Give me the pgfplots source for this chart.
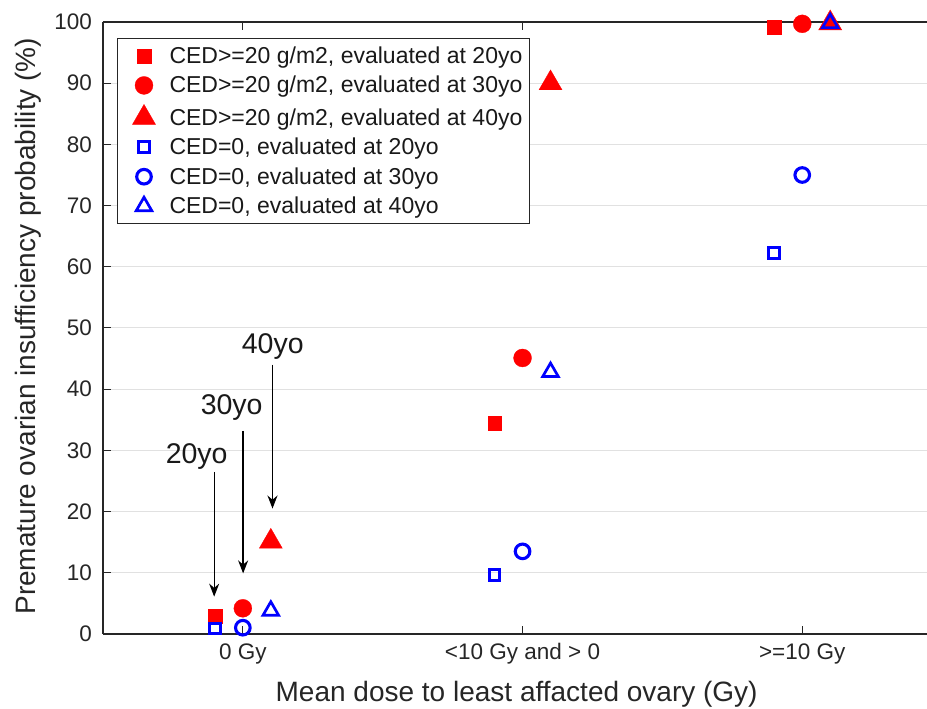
\documentclass[border=0pt]{standalone}
\usepackage{fontspec}
\setmainfont{Liberation Sans}
\usepackage{pgfplots}
\pgfplotsset{compat=1.18}
\usetikzlibrary{arrows.meta}
\definecolor{axgray}{RGB}{38,38,38}
\definecolor{gridgray}{RGB}{225,225,225}
\begin{document}
\begin{tikzpicture}
\begin{axis}[
  name=ax,
  scale only axis, width=824pt, height=612pt,
  xmin=0.5, xmax=3.446, ymin=0, ymax=100,
  axis x line=box, axis y line=left,
  axis line style={-, draw=axgray, line width=1.1pt},
  xtick={1,2,3}, xticklabels={0 Gy, {<10 Gy and > 0}, {>=10 Gy}},
  ytick={0,10,...,100},
  tick align=inside, major tick length=8pt,
  tick style={draw=axgray, line width=1pt},
  ymajorgrids, major grid style={draw=gridgray, line width=1pt},
  /pgf/number format/assume math mode=true,
  ticklabel style={font=\fontsize{22.5}{26}\selectfont, text=axgray},
  yticklabel style={anchor=east, inner sep=0pt, xshift=-11pt},
  xticklabel style={anchor=base, inner sep=0pt, yshift=-26pt},
  xlabel={Mean dose to least affacted ovary (Gy)},
  ylabel={Premature ovarian insufficiency probability (\%)},
  label style={font=\fontsize{28}{32}\selectfont, text=axgray, inner sep=0pt},
  xlabel style={at={(axis description cs:0.502,-0.1095)}, anchor=base},
  ylabel style={at={(axis description cs:-0.0825,0.503)}, anchor=base},
  legend style={at={(axis description cs:0.017,0.974)}, anchor=north west,
    draw=axgray, line width=1pt, fill=white,
    font=\fontsize{23}{27}\selectfont, text=black!90,
    inner xsep=7pt, inner ysep=7pt, row sep=8.5pt, column sep=13pt,
    nodes={inner sep=0pt, text height=18pt, text depth=3pt},
    cells={anchor=west}},
  legend image code/.code={\path (-19pt,0pt) (12pt,0pt);
    \draw[mark repeat=2, mark phase=2, #1] plot coordinates {(-12pt,0pt) (0pt,0pt) (12pt,0pt)};},
  clip=false,
]
\addplot[only marks, mark=square*, mark size=6.8pt, color=red, mark options={line width=0.3pt}]
  coordinates {(0.9,2.9) (1.9,34.5) (2.9,99.2)};
\addlegendentry{CED>=20 g/m2, evaluated at 20yo}
\addplot[only marks, mark=*, mark size=9pt, color=red, mark options={line width=0.3pt}]
  coordinates {(1,4.2) (2,45.1) (3,99.7)};
\addlegendentry{CED>=20 g/m2, evaluated at 30yo}
\addplot[only marks, mark=triangle*, mark size=13.3pt, color=red, mark options={line width=0.3pt}]
  coordinates {(1.1,15.1) (2.1,90.0) (3.1,99.8)};
\addlegendentry{CED>=20 g/m2, evaluated at 40yo}
\addplot[only marks, mark=square, mark size=5.3pt, color=blue, mark options={line width=3pt}]
  coordinates {(0.9,0.93) (1.9,9.6) (2.9,62.3)};
\addlegendentry{CED=0, evaluated at 20yo}
\addplot[only marks, mark=o, mark size=7.3pt, color=blue, mark options={line width=3.1pt}]
  coordinates {(1,1.03) (2,13.5) (3,75.0)};
\addlegendentry{CED=0, evaluated at 30yo}
\addplot[only marks, mark=triangle, mark size=9pt, color=blue, mark options={line width=2.7pt}]
  coordinates {(1.1,3.8) (2.1,42.8) (3.1,99.8)};
\addlegendentry{CED=0, evaluated at 40yo}

\draw[black, line width=1.3pt, -{Stealth[length=13pt,width=10pt]}] (axis cs:0.8975,26.5) -- (axis cs:0.8975,6.1);
\draw[black, line width=1.3pt, -{Stealth[length=13pt,width=10pt]}] (axis cs:1.001,33.2) -- (axis cs:1.001,9.9);
\draw[black, line width=1.3pt, -{Stealth[length=13pt,width=10pt]}] (axis cs:1.106,44.0) -- (axis cs:1.106,20.5);
\node[font=\fontsize{28.5}{32}\selectfont, anchor=base, inner sep=0pt, text=black!90] at (axis cs:0.835,27.8) {20yo};
\node[font=\fontsize{28.5}{32}\selectfont, anchor=base, inner sep=0pt, text=black!90] at (axis cs:0.96,35.9) {30yo};
\node[font=\fontsize{28.5}{32}\selectfont, anchor=base, inner sep=0pt, text=black!90] at (axis cs:1.107,45.8) {40yo};
\end{axis}
\pgfresetboundingbox
\path ([shift={(-103pt,-75pt)}]ax.south west) rectangle ([shift={(0pt,22pt)}]ax.north east);
\end{tikzpicture}
\end{document}
